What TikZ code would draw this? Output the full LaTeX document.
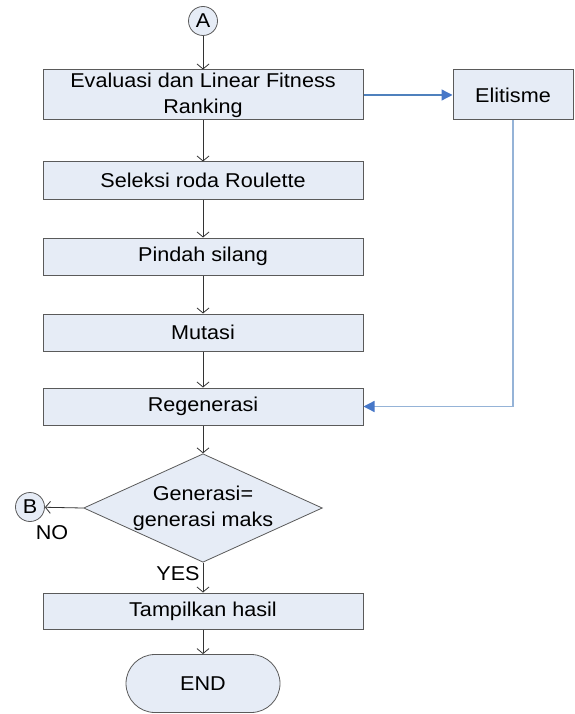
\documentclass[tikz,border=0pt]{standalone}
\usepackage{fontspec}
\setmainfont{Liberation Sans}[FakeStretch=1.08]
\usetikzlibrary{shapes.geometric,arrows.meta}
\definecolor{boxfill}{HTML}{E6ECF6}
\definecolor{boxdraw}{HTML}{5A5A5A}
\definecolor{darkblue}{HTML}{4F81BD}
\definecolor{tipblue}{HTML}{4677C8}
\definecolor{lightblue}{HTML}{95B3D7}
\begin{document}
\begin{tikzpicture}[x=1pt,y=-1pt,
  every node/.style={font=\fontsize{20}{26}\selectfont},
  procbox/.style={draw=boxdraw,fill=boxfill,line width=1pt,minimum width=320pt,inner sep=0pt,align=center},
  connector/.style={draw=boxdraw,fill=boxfill,line width=0.8pt,circle,minimum size=29pt,inner sep=0pt},
  flow/.style={draw=black!80,line width=0.8pt,-{Straight Barb[length=5pt,width=12pt]}},
  blueflow/.style={draw=darkblue,line width=1.3pt,-{Triangle[length=11pt,width=11pt,color=tipblue]}},
  lightflow/.style={draw=lightblue,line width=1.3pt,-{Triangle[length=11pt,width=11pt,color=tipblue]}},
  lbl/.style={inner sep=0pt}
]
\useasboundingbox (0,0) rectangle (574,714);
\node[connector] (A) at (203,21) {A};
\node[procbox,minimum height=50pt] (eval) at (203,95) {Evaluasi dan Linear Fitness\\Ranking};
\node[draw=boxdraw,fill=boxfill,line width=1pt,minimum width=120pt,minimum height=50pt,inner sep=0pt] (elit) at (513,95) {Elitisme};
\node[procbox,minimum height=37pt] (sel) at (203,180.5) {Seleksi roda Roulette};
\node[procbox,minimum height=37pt] (pin) at (203,256.5) {Pindah silang};
\node[procbox,minimum height=37pt] (mut) at (203,332.5) {Mutasi};
\node[procbox,minimum height=37pt] (reg) at (203,406.5) {Regenerasi};
\node[diamond,draw=boxdraw,fill=boxfill,line width=0.8pt,minimum width=234pt,minimum height=106pt,aspect=2.2,inner sep=0pt,align=center] (dia) at (203,508) {Generasi=\\generasi maks};
\node[connector] (B) at (30,507) {B};
\node[procbox,minimum height=36pt] (tamp) at (203,611) {Tampilkan hasil};
\node[draw=boxdraw,fill=boxfill,line width=0.8pt,rounded corners=29pt,minimum width=154pt,minimum height=58pt,inner sep=0pt] (end) at (203,683.5) {END};
\node[lbl] (no) at (52,533) {NO};
\node[lbl] (yes) at (178,574) {YES};
\coordinate (elbow) at (elit.south |- reg.east);
\draw[flow] (A) -- (eval);
\draw[flow] (eval) -- (sel);
\draw[flow] (sel) -- (pin);
\draw[flow] (pin) -- (mut);
\draw[flow] (mut) -- (reg);
\draw[flow] (reg) -- (dia.north);
\draw[flow] (dia.south) -- (tamp);
\draw[flow] (tamp) -- (end);
\draw[flow] (dia.west) -- (B);
\draw[blueflow] (eval) -- (elit);
\draw[lightflow] (elit.south) -- (elbow) -- (reg.east);
\end{tikzpicture}
\end{document}
